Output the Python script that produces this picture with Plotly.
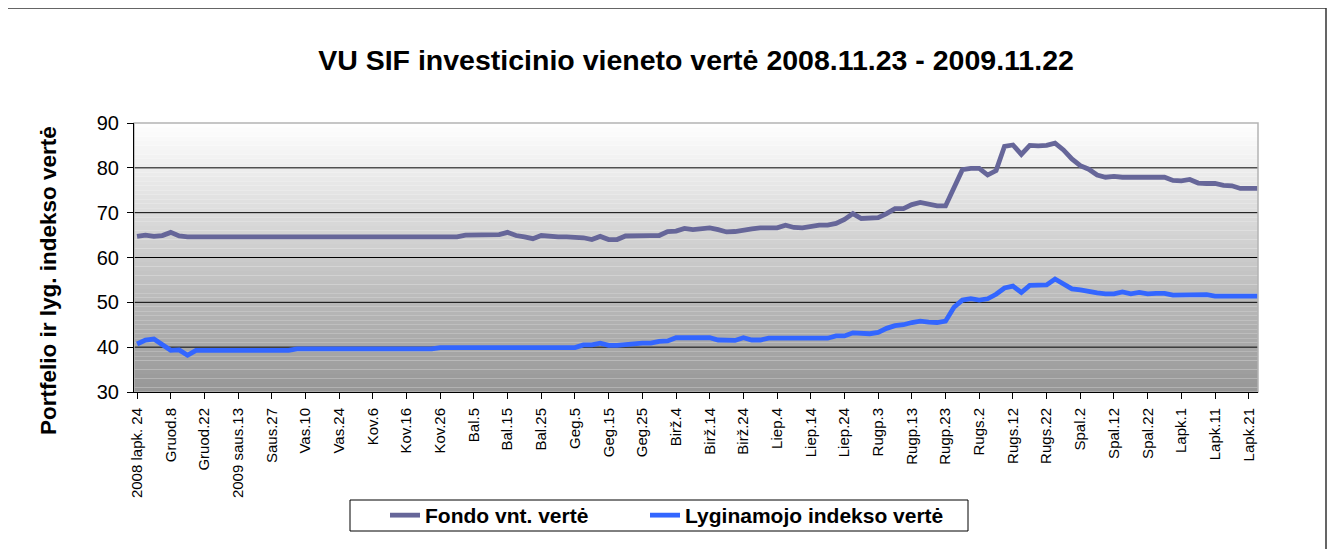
import plotly.graph_objects as go

# ---- data ----
tick_labels = ["2008 lapk. 24", "Gruod.8", "Gruod.22", "2009 saus.13", "Saus.27", "Vas.10", "Vas.24",
               "Kov.6", "Kov.16", "Kov.26", "Bal.5", "Bal.15", "Bal.25", "Geg.5", "Geg.15", "Geg.25",
               "Birž.4", "Birž.14", "Birž.24", "Liep.4", "Liep.14", "Liep.24", "Rugp.3", "Rugp.13",
               "Rugp.23", "Rugs.2", "Rugs.12", "Rugs.22", "Spal.2", "Spal.12", "Spal.22", "Lapk.1",
               "Lapk.11", "Lapk.21"]
points_per_label = 4

fondo = [64.7, 65.0, 64.7, 64.9, 65.6, 64.8, 64.6, 64.6, 64.6, 64.6,
         64.6, 64.6, 64.6, 64.6, 64.6, 64.6, 64.6, 64.6, 64.6, 64.6,
         64.6, 64.6, 64.6, 64.6, 64.6, 64.6, 64.6, 64.6, 64.6, 64.6,
         64.6, 64.6, 64.6, 64.6, 64.6, 64.6, 64.6, 64.6, 64.6, 65.0,
         65.0, 65.0, 65.0, 65.1, 65.6, 64.9, 64.6, 64.2, 64.9, 64.7,
         64.6, 64.6, 64.6, 64.4, 64.0, 64.7, 64.0, 64.0, 64.8, 64.9,
         64.9, 64.9, 64.9, 65.8, 65.9, 66.5, 66.2, 66.3, 66.6, 66.2,
         65.7, 65.8, 66.2, 66.4, 66.6, 66.6, 66.6, 67.2, 66.7, 66.6,
         66.9, 67.2, 67.2, 67.6, 68.5, 69.8, 68.7, 68.9, 68.9, 69.8,
         70.9, 70.9, 71.8, 72.3, 72.0, 71.5, 71.5, 75.5, 79.6, 79.9,
         79.9, 78.4, 79.4, 84.8, 85.1, 83.0, 85.0, 84.9, 85.0, 85.5,
         84.0, 82.0, 80.5, 79.7, 78.4, 77.9, 78.1, 77.9, 77.9, 78.1,
         78.0, 77.9, 77.9, 77.2, 77.1, 77.4, 76.6, 76.5, 76.5, 76.1,
         76.0, 75.4, 75.5, 75.4]

lyginamojo = [40.7, 41.6, 41.8, 40.7, 39.3, 39.4, 38.2, 39.3, 39.3, 39.3,
              39.3, 39.3, 39.3, 39.3, 39.3, 39.3, 39.3, 39.3, 39.3, 39.6,
              39.6, 39.6, 39.6, 39.6, 39.6, 39.6, 39.6, 39.6, 39.6, 39.6,
              39.6, 39.6, 39.6, 39.6, 39.6, 39.6, 39.9, 39.9, 39.9, 39.9,
              39.9, 39.9, 39.9, 39.9, 39.9, 39.9, 39.9, 39.9, 39.9, 39.9,
              39.9, 39.9, 39.9, 40.5, 40.5, 40.9, 40.4, 40.4, 40.6, 40.9,
              40.9, 40.9, 41.3, 41.4, 42.1, 42.1, 42.1, 42.1, 42.1, 41.6,
              41.5, 41.5, 42.1, 41.6, 41.6, 42.0, 42.0, 42.0, 42.1, 42.0,
              42.0, 42.0, 42.0, 42.5, 42.5, 43.2, 43.0, 43.0, 43.3, 44.2,
              44.8, 45.0, 45.5, 45.8, 45.6, 45.5, 45.8, 48.9, 50.5, 50.8,
              50.5, 50.8, 51.8, 53.2, 53.6, 52.2, 53.8, 53.8, 53.9, 55.2,
              54.2, 53.0, 52.8, 52.4, 52.1, 51.9, 51.9, 52.3, 51.9, 52.2,
              51.9, 52.0, 52.0, 51.6, 51.6, 51.6, 51.5, 51.7, 51.4, 51.4,
              51.4, 51.4, 51.4, 51.4]

series_names = ["Fondo vnt. vertė", "Lyginamojo indekso vertė"]
y_ticks = [30, 40, 50, 60, 70, 80, 90]

# ---- layout helpers (screen pixels -> paper coords of the plot area) ----
FONT = "Liberation Sans, Arial, sans-serif"
PL, PT, PW, PH = 134, 123, 1124, 269          # plot area on screen
PAGE_OFF = 8                                   # browser body margin
FIG_W, FIG_H = 1335 - PAGE_OFF, 549 - PAGE_OFF


def px(X):
    return (X - PL) / PW


def py(Y):
    return (PT + PH - Y) / PH


x_idx = list(range(len(fondo)))
tick_pos = [i * points_per_label for i in range(len(tick_labels))]

fig = go.Figure()
fig.add_trace(go.Scatter(x=x_idx, y=fondo, mode="lines", name=series_names[0],
                         line=dict(color="#666699", width=4.8), legend="legend"))
fig.add_trace(go.Scatter(x=x_idx, y=lyginamojo, mode="lines", name=series_names[1],
                         line=dict(color="#3366FF", width=4.8), legend="legend2"))

shapes = []
lo, hi = y_ticks[0], y_ticks[-1]
nb = 60
for k in range(nb):
    y0 = lo + (hi - lo) * k / nb
    y1 = lo + (hi - lo) * (k + 1) / nb
    t = (k + 0.5) / nb
    c = int(round(150 + 105 * t))
    shapes.append(dict(type="rect", xref="paper", yref="y", x0=0, x1=1, y0=y0, y1=y1,
                       fillcolor=f"rgb({c},{c},{c})", line=dict(width=0), layer="below"))
for v in y_ticks[1:-1]:
    shapes.append(dict(type="line", xref="paper", yref="y", x0=0, x1=1, y0=v, y1=v,
                       line=dict(color="#000000", width=1), layer="below"))
shapes.append(dict(type="rect", xref="paper", yref="paper", x0=0, x1=1, y0=0, y1=1,
                   line=dict(color="#B4B4B4", width=1.5), layer="below"))
# outer chart border
shapes.append(dict(type="rect", xref="paper", yref="paper", x0=px(5), x1=px(1326),
                   y0=py(560), y1=py(8), line=dict(color="#333333", width=1.5), layer="above"))
# legend frame
shapes.append(dict(type="rect", xref="paper", yref="paper", x0=px(350), x1=px(968),
                   y0=py(531), y1=py(500), fillcolor="white",
                   line=dict(color="black", width=1), layer="above"))

leg_common = dict(orientation="h", xanchor="left", yanchor="middle", bgcolor="rgba(0,0,0,0)",
                  borderwidth=0, font=dict(size=21, weight="bold", family=FONT, color="black"))

fig.update_layout(
    width=FIG_W, height=FIG_H,
    margin=dict(l=PL - PAGE_OFF, r=FIG_W - (PL - PAGE_OFF) - PW,
                t=PT - PAGE_OFF, b=FIG_H - (PT - PAGE_OFF) - PH),
    paper_bgcolor="white", plot_bgcolor="rgba(0,0,0,0)",
    font=dict(family=FONT, color="black"),
    title=dict(text="VU SIF investicinio vieneto vertė 2008.11.23 - 2009.11.22",
               x=0.5, xref="paper", xanchor="center",
               y=1 - (60 - PAGE_OFF) / FIG_H, yanchor="middle",
               font=dict(size=28.5, weight="bold", family=FONT)),
    shapes=shapes,
    showlegend=True,
    legend=dict(x=px(385), y=py(515.5), **leg_common),
    legend2=dict(x=px(645), y=py(515.5), **leg_common),
    annotations=[dict(text="Portfelio ir lyg. indekso vertė", textangle=-90,
                      xref="paper", yref="paper", x=px(48), y=py(281),
                      xanchor="center", yanchor="middle", showarrow=False,
                      font=dict(size=22.5, weight="bold", family=FONT))],
)

fig.update_xaxes(range=[-0.36, len(fondo) - 0.9], tickmode="array", tickvals=tick_pos,
                 ticktext=tick_labels, tickangle=-90, ticks="outside", ticklen=6,
                 tickcolor="black", showline=True, linecolor="black", linewidth=1,
                 showgrid=False, zeroline=False, ticklabelstandoff=3,
                 tickfont=dict(size=15, family=FONT))
fig.update_yaxes(range=[lo, hi], tickmode="array", tickvals=y_ticks, ticks="outside",
                 ticklen=6, tickcolor="black", showline=True, linecolor="black", linewidth=1,
                 showgrid=False, zeroline=False, ticklabelstandoff=4,
                 tickfont=dict(size=20, family=FONT))

fig.write_html("out.html")
